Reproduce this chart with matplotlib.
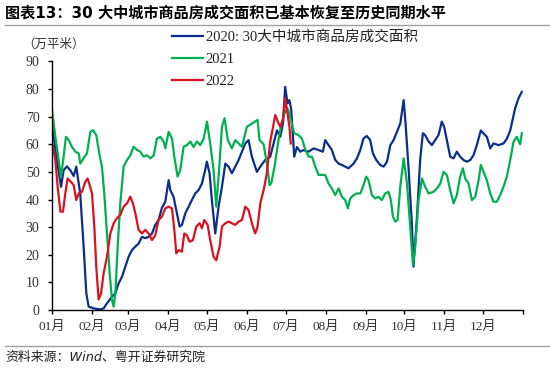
import matplotlib
matplotlib.use("Agg")
import matplotlib.pyplot as plt
from matplotlib.lines import Line2D

# day-of-year positions and values (万平米)
days_2020 = [0, 3.9, 7, 9, 11.6, 14.2, 16.8, 18.8, 21.9, 24.5, 26.6, 28.4, 32.3, 37.4, 40, 42.6,
             46.5, 49, 51.6, 54.2, 56.8, 59.4, 62, 64.6, 67.1, 69.7, 72.3, 74.9, 77.5, 80, 82.6,
             85.2, 87.8, 90.4, 91.7, 94.2, 96.8, 98.9, 100.7, 103.3, 105.9, 108.4, 111, 113.6,
             116.2, 118.7, 120, 122.1, 123.9, 126.5, 129.1, 131.7, 134.3, 136.8, 139.4, 142,
             144.6, 147.2, 149.8, 152.3, 154.9, 158.8, 161.4, 165.2, 169.1, 171.7, 174.3, 176.9,
             179, 180.7, 182.5, 184, 185.4, 186.7, 187.7, 189.8, 192.4, 194.9, 198.8, 202.7,
             206.6, 209.9, 211.7, 214.3, 216.9, 219.5, 222.1, 224.7, 227.2, 229.8, 233.7, 236.3,
             238.9, 241.4, 244, 246.6, 248.7, 251.3, 254.3, 257, 259.6, 262.2, 264.7, 267.3,
             269.9, 272.5, 273.8, 276.4, 279, 280.1, 282.7, 285.3, 287.4, 289.2, 291.8, 294.4,
             297, 299.5, 302.1, 303.9, 306, 308.6, 311.2, 313.7, 316.3, 318.9, 321.5, 324.1,
             326.6, 329.2, 332.3, 334.4, 337, 339.6, 342.1, 346, 349.9, 352.5, 355.1, 358.9,
             361.5, 364.1]
vals_2020 = [67, 54, 44.6, 50.6, 52, 50.6, 48.5, 51.9, 42, 23, 6, 1.2, 0.6, 0.2, 0.6, 2.4,
             4.8, 6, 9.6, 12, 15.7, 19.3, 21.7, 23, 24, 26.5, 26, 26.5, 27.7, 30.8, 32.6,
             37, 39.2, 47, 43.4, 41, 35, 30.2, 30.8, 35, 37.4, 39.8, 42.2, 43.4,
             45.8, 50.7, 53.7, 49.5, 39.8, 27.7, 37.4, 44.6, 53, 51.9, 49.5, 51.9,
             54.3, 57.3, 60.3, 61.5, 55.5, 50, 51.9, 54.3, 55.5, 60.3, 65, 62.7,
             67.5, 80.8, 74.8, 76, 72.4, 62.7, 55.5, 59, 57.3, 57.9, 57.3, 58.5,
             57.9, 57.3, 61.5, 59.7, 57.9, 54.3, 53, 52.5, 51.9, 51.3, 53, 54.9,
             57.9, 62.1, 63, 61.5, 56.7, 54.3, 52.5, 51.9, 53.7, 59.7, 61.5, 64.5,
             67.5, 76, 68.8, 50.7, 30.2, 15.7, 32.6, 54.3, 64, 63.3, 61, 59.7,
             61.5, 63.3, 68.2, 66.3, 61.5, 55.5, 54.9, 57.3, 55.5, 54.3, 53.7, 54.3,
             56, 59.7, 65, 63.9, 62.7, 58.5, 60.3, 59.7, 60.3, 62, 65, 73,
             76.6, 79]

days_2021 = [0, 2.6, 5.2, 7, 9, 10.8, 12.9, 15.5, 18.1, 20.7, 21.9, 24.5, 27.1, 29.7, 31.8,
             34.3, 36.9, 38.7, 40.5, 42.6, 44.7, 46.5, 47.8, 49.1, 50.9, 52.9, 55.5, 58.1,
             60.7, 63.3, 65.8, 68.4, 71, 73.6, 76.2, 78.8, 81.3, 83.9, 86.5, 87.8, 90.4, 93,
             94.8, 97.3, 99.4, 102, 104.6, 107.2, 109.7, 112.3, 114.9, 117.5, 120.1, 122.6,
             125.2, 127.3, 129.1, 131.7, 133.7, 136.3, 139.4, 142, 144.6, 147.2, 151, 154.9,
             159.3, 160.8, 164, 166.5, 168.6, 170, 172.5, 175, 177.5, 180, 182.5, 184, 186,
             187.7, 191.1, 193.7, 196.3, 198.9, 201.5, 204, 206.6, 209.2, 211.7, 214.3, 216.9,
             219.5, 222.1, 224.7, 227.2, 229.3, 231.1, 233.7, 236.3, 238.9, 241.4, 243.5,
             245.3, 247.9, 250.5, 253.1, 255.6, 258.2, 260.8, 262.6, 264.2, 266, 267.8, 269.9,
             272.5, 275.1, 277.6, 279.7, 281.5, 284.1, 286.7, 289.2, 291.8, 295.7, 298.3,
             300.9, 303.4, 306, 308.6, 311.2, 313.7, 316.3, 318.4, 320.2, 322.8, 325.4, 328,
             330.6, 332.3, 334.4, 337, 339.6, 342.1, 344.7, 347.3, 349.9, 352.5, 355.1, 357.7,
             360.2, 362.8, 364.1]
vals_2021 = [72.4, 62.7, 54.3, 48.3, 55.5, 62.7, 61.5, 59.1, 57.3, 56.7, 53, 55, 56.7, 64.5, 65.1,
             63.3, 56, 51.9, 42.2, 27.7, 13.3, 3.6, 1.2, 6, 23, 38.6, 51.9, 54.3,
             56, 59.1, 58, 57.3, 55.5, 56, 54.9, 56, 62, 62.7, 61, 58.5, 64.5, 62,
             55.5, 48.3, 50.7, 59.1, 59.7, 61, 59, 61, 59.7, 62, 68.2, 60.3,
             50.7, 37.4, 48.3, 66.3, 69.4, 61.5, 58.5, 61.5, 60.3, 59.1, 66.3, 67.5,
             68.8, 61.5, 60, 53, 45.2, 46, 52, 60, 67, 71, 73, 71, 67,
             64, 63.3, 62, 58, 55.5, 55.5, 51.9, 48.9, 48.9, 48.9, 45.8, 44,
             41.6, 44, 41, 39.8, 36.8, 40.4, 41.6, 42.2, 42.2, 45.2, 48.3,
             47, 41.6, 40.4, 41, 39.8, 42.2, 42.8, 39.8, 33.8, 32, 32.6, 44.6,
             54.9, 45.8, 30.2, 16.3, 23, 39.8, 47.6, 44.6, 42.2, 42.8, 44,
             45.8, 50, 48.9, 43.4, 38.6, 41.6, 48.3, 51.3, 47.6, 45.8, 39.8, 41,
             47, 52.5, 50, 47, 42.2, 39.2, 39.2, 41.6, 44.6, 48.3, 54.3, 61,
             62.7, 60, 64]

days_2022 = [0, 2.6, 4.4, 6.5, 8.5, 10.3, 12.1, 14.7, 16.8, 18.8, 20.7, 23.2, 25.8, 27.6, 29.2,
             31, 32.8, 34.3, 36.1, 38, 40, 42.6, 45.2, 47.8, 50.3, 52.9, 55.5, 58.1, 60.7,
             62.7, 64.6, 67.1, 69.7, 72.3, 74.9, 77.5, 80, 82.6, 85.2, 87.8, 90.4, 93, 94.8,
             96.3, 98.1, 100.7, 102.5, 104.6, 106.6, 109.2, 111.8, 114.4, 116.2, 118, 120.6,
             122.6, 125.2, 127.3, 129.9, 131.7, 134.3, 136.8, 139.4, 142, 144.6, 147.2, 149.8,
             152.3, 154.9, 157.5, 159.3, 161.4, 164, 166.5, 169.1, 171.2, 173, 175.6, 176.9,
             179, 180.7, 182.5, 184, 185]
vals_2022 = [61, 54.3, 44.6, 35.6, 35.6, 42.2, 47.6, 46.4, 45.2, 39.8, 42.2, 42.8, 46.4, 47.6, 45.2,
             42.2, 30.2, 15.7, 3.8, 6, 13.3, 19.3, 27.7, 31.4, 33.2, 34.4, 37.4, 38.6, 41,
             38.6, 35, 29, 27.7, 29, 27.7, 25.3, 27, 32.6, 33.8, 36.8, 37.4, 36.8, 29,
             20.5, 21.7, 21.1, 27.7, 27, 24.7, 25.3, 30.2, 31.4, 29.6, 32.6, 30.8,
             25.3, 19.3, 18, 23, 30.2, 31.4, 32, 31.4, 30.8, 32, 32.6, 37.4,
             36.2, 31.4, 27.7, 30.2, 38.6, 43.4, 49.5, 61, 66, 70.6, 67.5, 66.3,
             68.8, 76.6, 71.2, 66.3, 60.3]

month_starts = [0, 31, 59, 90, 120, 151, 181, 212, 243, 273, 304, 334, 365]
month_labels = ['01月', '02月', '03月', '04月', '05月', '06月', '07月', '08月',
                '09月', '10月', '11月', '12月', '']

serif = ['Liberation Serif', 'Noto Sans CJK SC']
sans = ['DejaVu Sans', 'Noto Sans CJK SC']

fig = plt.figure(figsize=(5.5, 3.72), dpi=100)
ax = fig.add_axes([52 / 550, 1 - 310 / 372, 471 / 550, 248.6 / 372])

ax.plot(days_2020, vals_2020, color='#0B2E8C', lw=1.6, label='2020: 30大中城市商品房成交面积')
ax.plot(days_2021, vals_2021, color='#00B050', lw=1.6, label='2021')
ax.plot(days_2022, vals_2022, color='#D9121E', lw=1.6, label='2022')

ax.set_xlim(0, 365)
ax.set_ylim(0, 90)
ax.set_yticks(range(0, 91, 10))
ax.set_xticks(month_starts)
ax.set_xticklabels(month_labels)
for s in ['top', 'right']:
    ax.spines[s].set_visible(False)
for s in ['left', 'bottom']:
    ax.spines[s].set_linewidth(1.0)
ax.tick_params(axis='y', direction='out', length=3, width=1, pad=6)
ax.tick_params(axis='x', direction='out', length=3, width=1, pad=5)
for lb in ax.get_yticklabels():
    lb.set_family(serif)
    lb.set_fontsize(10)
    lb.set_color('#333333')
for lb in ax.get_xticklabels():
    lb.set_family(serif)
    lb.set_fontsize(9.5)
    lb.set_color('#333333')

leg = ax.legend(loc='upper left', bbox_to_anchor=(172 / 550, 1 - 30 / 372),
                bbox_transform=fig.transFigure, frameon=False, borderpad=0,
                borderaxespad=0, handlelength=2.1, handletextpad=0.2,
                labelspacing=0.62, prop={'family': serif, 'size': 10.5})
for t in leg.get_texts():
    t.set_color('#222222')

fig.text(22 / 550, 1 - 45 / 372, '（万平米）', family=serif, fontsize=9,
         va='center', ha='left', color='#333333')

fig.text(5 / 550, 1 - 13 / 372, '图表13：30 大中城市商品房成交面积已基本恢复至历史同期水平',
         family=sans, fontsize=10.9, fontweight='bold', va='center', ha='left')
fig.text(5 / 550, 1 - 357 / 372, '资料来源：Wind、粤开证券研究院', family=sans,
         fontsize=9.3, style='italic', va='center', ha='left', color='#222222')

fig.add_artist(Line2D([5 / 550, 1], [1 - 25 / 372, 1 - 25 / 372], color='#A0A0A0', lw=1))
fig.add_artist(Line2D([5 / 550, 1], [1 - 346 / 372, 1 - 346 / 372], color='#A0A0A0', lw=1))

fig.savefig('out.png', dpi=100)
